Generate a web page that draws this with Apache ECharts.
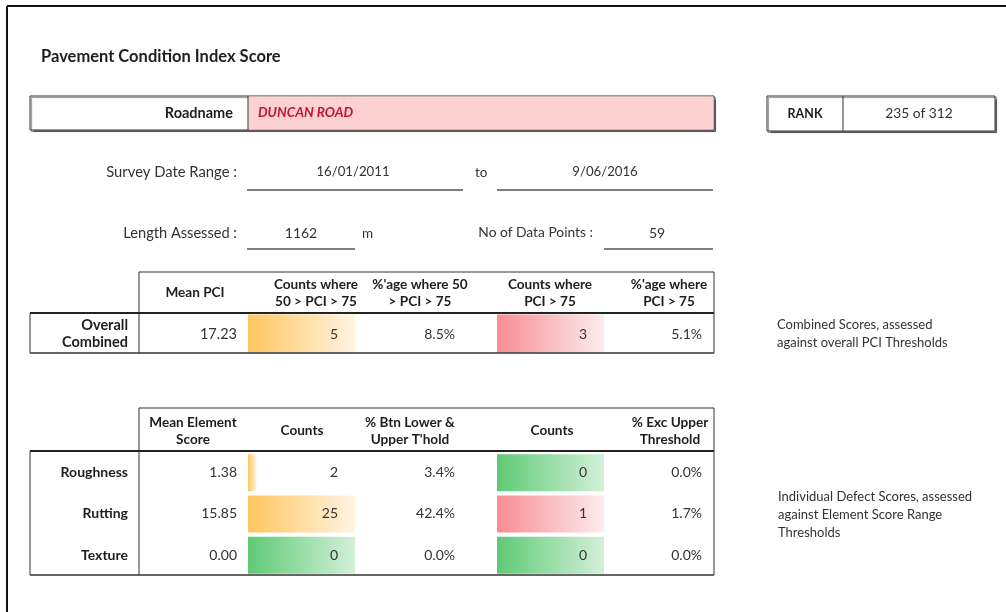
<!DOCTYPE html>
<html>
<head>
<meta charset="utf-8">
<script src="https://cdn.jsdelivr.net/npm/echarts@6/dist/echarts.min.js"></script>
<style>
  html, body { margin: 0; padding: 0; background: #fff; }
  #chart { width: 1006px; height: 612px; }
</style>
</head>
<body>
<div id="chart"></div>
<script>
// values
const title = 'Pavement Condition Index Score';
const roadName = 'DUNCAN ROAD';
const rankText = '235 of 312';
const surveyFrom = '16/01/2011';
const surveyTo = '9/06/2016';
const lengthAssessed = 1162;
const dataPoints = 59;

const pciHeaders = ['Mean PCI', 'Counts where\n50 > PCI > 75', "%'age where 50\n> PCI > 75", 'Counts where\nPCI > 75', "%'age where\nPCI > 75"];
const pciRows = ['Overall\nCombined'];
const pciMean = [17.23];
const pciMidCounts = [5];
const pciMidPct = [8.5];
const pciHighCounts = [3];
const pciHighPct = [5.1];

const elemHeaders = ['Mean Element\nScore', 'Counts', "% Btn Lower &\nUpper T'hold", 'Counts', '% Exc Upper\nThreshold'];
const elements = ['Roughness', 'Rutting', 'Texture'];
const elemMean = [1.38, 15.85, 0.00];
const elemMidCounts = [2, 25, 0];
const elemMidPct = [3.4, 42.4, 0.0];
const elemHighCounts = [0, 1, 0];
const elemHighPct = [0.0, 1.7, 0.0];

const pciNote = 'Combined Scores, assessed\nagainst overall PCI Thresholds';
const elemNote = 'Individual Defect Scores, assessed\nagainst Element Score Range\nThresholds';

// layout
const FONT = 'Lato, "Open Sans", sans-serif';
const TXT = '#333';
const HEAD = '#1e1e1e';
const colRight = [237, 338, 455, 587, 702];   // right edge of cell values
const headCenter1 = [195, 316, 420, 550, 669];
const headCenter2 = [193, 302, 410, 552, 670];
const barLeft = [248, 497];
const barWidthPx = 107;

const orange = new echarts.graphic.LinearGradient(0, 0, 1, 0, [
  { offset: 0, color: '#ffc55f' }, { offset: 1, color: '#fff4e2' }]);
const pink = new echarts.graphic.LinearGradient(0, 0, 1, 0, [
  { offset: 0, color: '#f88d93' }, { offset: 1, color: '#fdeced' }]);
const green = new echarts.graphic.LinearGradient(0, 0, 1, 0, [
  { offset: 0, color: '#5fca75' }, { offset: 1, color: '#d3f0d8' }]);

const g = [];
function text(x, y, s, o) {
  o = o || {};
  g.push({
    type: 'text', x: x, y: y, z: 100,
    style: {
      text: s, fill: o.fill || TXT, font: (o.italic ? 'italic ' : '') + (o.bold ? 'bold ' : '') + (o.size || 14) + 'px ' + FONT,
      align: o.align || 'left', verticalAlign: 'middle', lineHeight: o.lh || 17
    }
  });
}
function line(x1, y1, x2, y2, w, c) {
  g.push({ type: 'line', z: 90, shape: { x1: x1, y1: y1, x2: x2, y2: y2 },
    style: { stroke: c || '#333', lineWidth: w || 1 } });
}
function box(x, y, w, h, fill) {
  g.push({ type: 'rect', z: 5, shape: { x: x, y: y, width: w, height: h },
    style: { fill: fill || '#fff', stroke: '#333', lineWidth: 1,
      shadowColor: 'rgba(0,0,0,0.45)', shadowOffsetX: 1.5, shadowOffsetY: 1.5, shadowBlur: 1 } });
}
const pct = v => v.toFixed(1) + '%';

// page frame
line(7, 6, 1006, 6, 2, '#111');
line(7, 6, 7, 612, 2, '#111');

text(41, 57, title, { bold: true, size: 16.5, fill: HEAD });

// roadname + rank boxes
box(30, 96, 684, 34, '#fff');
g.push({ type: 'rect', z: 6, shape: { x: 248.5, y: 96.5, width: 465, height: 33 }, style: { fill: '#fdd0d2' } });
line(248, 96, 248, 130);
text(233, 113, 'Roadname', { bold: true, align: 'right', size: 14.5, fill: HEAD });
text(258, 113, roadName, { bold: true, italic: true, fill: '#c3162c', size: 13.6 });
box(767, 96, 228, 35, '#fff');
line(843, 96, 843, 131);
text(805, 114, 'RANK', { bold: true, align: 'center', size: 12.5, fill: HEAD });
text(919, 114, rankText, { align: 'center', size: 13.8 });

// survey info
text(237, 172, 'Survey Date Range :', { align: 'right', size: 14.8 });
line(247, 190, 463, 190, 1.5, '#555');
text(353, 172, surveyFrom, { align: 'center', size: 13.2 });
text(475, 173, 'to', { size: 13.5 });
line(497, 190, 713, 190, 1.5, '#555');
text(605, 172, surveyTo, { align: 'center', size: 13.2 });

text(237, 233, 'Length Assessed :', { align: 'right', size: 14.6 });
line(247, 249, 355, 249, 1.5, '#555');
text(301, 233, String(lengthAssessed), { align: 'center', size: 14 });
text(362, 234, 'm', { size: 13.5 });
text(593, 233, 'No of Data Points :', { align: 'right', size: 13.8 });
line(604, 249, 713, 249, 1.5, '#555');
text(657, 233, String(dataPoints), { align: 'center', size: 14 });

// table 1 frame
line(139, 272, 714, 272);
line(139, 272, 139, 353);
line(714, 272, 714, 353);
line(30, 313, 714, 313, 2, '#222');
line(30, 313, 30, 353);
line(30, 353, 714, 353, 1.5);
pciHeaders.forEach((h, i) => text(headCenter1[i], 293, h, { bold: true, align: 'center', size: 13.6, fill: HEAD }));
pciRows.forEach((r, j) => {
  const y = 334 + j * 40;
  text(128, y, r, { bold: true, align: 'right', size: 14.5, fill: HEAD });
  text(colRight[0], y, pciMean[j].toFixed(2), { align: 'right', size: 14.5 });
  text(colRight[1], y, String(pciMidCounts[j]), { align: 'right' });
  text(colRight[2], y, pct(pciMidPct[j]), { align: 'right' });
  text(colRight[3], y, String(pciHighCounts[j]), { align: 'right' });
  text(colRight[4], y, pct(pciHighPct[j]), { align: 'right' });
});
text(777, 334, pciNote, { lh: 18, size: 13 });

// table 2 frame
line(139, 408, 714, 408);
line(139, 408, 139, 575);
line(714, 408, 714, 575);
line(30, 451, 714, 451, 2, '#222');
line(30, 451, 30, 575);
line(30, 575, 714, 575, 1.5);
elemHeaders.forEach((h, i) => text(headCenter2[i], 431, h, { bold: true, align: 'center', size: 13.6, fill: HEAD }));
elements.forEach((r, j) => {
  const y = 472 + j * 41.5;
  text(128, y, r, { bold: true, align: 'right', size: 14, fill: HEAD });
  text(colRight[0], y, elemMean[j].toFixed(2), { align: 'right' });
  text(colRight[1], y, String(elemMidCounts[j]), { align: 'right' });
  text(colRight[2], y, pct(elemMidPct[j]), { align: 'right' });
  text(colRight[3], y, String(elemHighCounts[j]), { align: 'right' });
  text(colRight[4], y, pct(elemHighPct[j]), { align: 'right' });
});
text(778, 515, elemNote, { lh: 18, size: 13 });

// data bars: one hidden grid per coloured column
const barCols = [
  { vals: pciMidCounts, cats: pciRows, left: barLeft[0], top: 314, height: 39, color: orange, bw: 38 },
  { vals: pciHighCounts, cats: pciRows, left: barLeft[1], top: 314, height: 39, color: pink, bw: 38 },
  { vals: elemMidCounts, cats: elements, left: barLeft[0], top: 452, height: 124, color: orange, bw: 37 },
  { vals: elemHighCounts, cats: elements, left: barLeft[1], top: 452, height: 124, color: pink, bw: 37 }
];
const grids = [], xAxes = [], yAxes = [], series = [];
barCols.forEach((c, i) => {
  const max = Math.max.apply(null, c.vals) || 1;
  grids.push({ left: c.left, top: c.top, width: barWidthPx, height: c.height, containLabel: false });
  xAxes.push({ type: 'value', gridIndex: i, min: 0, max: max, show: false });
  yAxes.push({ type: 'category', gridIndex: i, data: c.cats, inverse: true, show: false });
  series.push({
    type: 'bar', xAxisIndex: i, yAxisIndex: i, barWidth: c.bw, silent: true,
    data: c.vals.map(v => v === 0
      ? { value: max, itemStyle: { color: green } }
      : { value: v, itemStyle: { color: c.color } })
  });
});

const chart = echarts.init(document.getElementById('chart'));
chart.setOption({
  animation: false,
  backgroundColor: '#fff',
  grid: grids,
  xAxis: xAxes,
  yAxis: yAxes,
  series: series,
  graphic: g
});
</script>
</body>
</html>
